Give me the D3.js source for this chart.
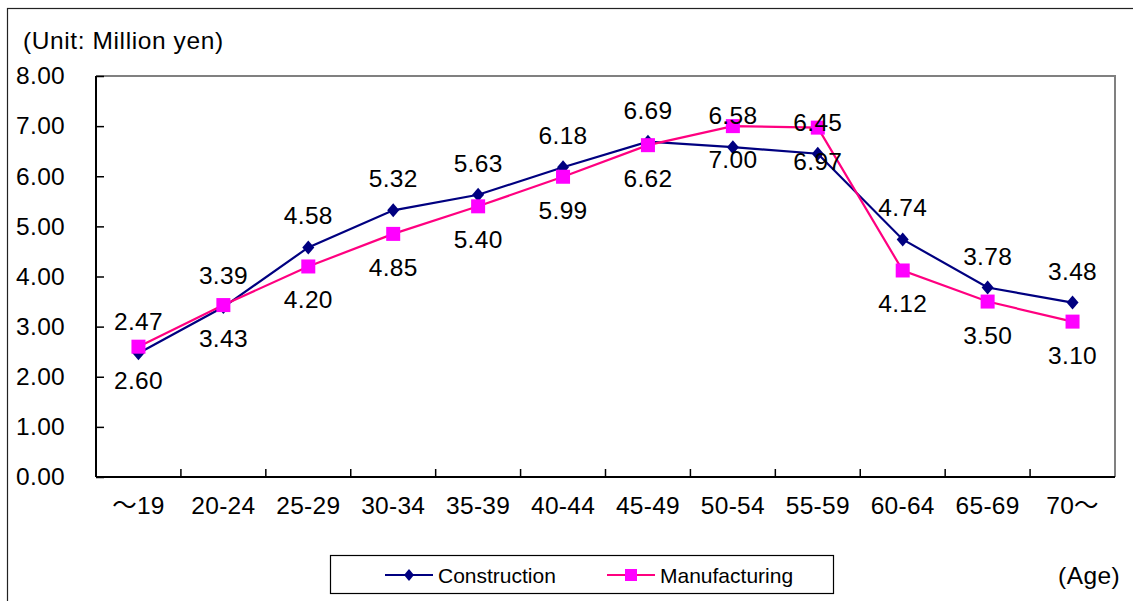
<!DOCTYPE html>
<html>
<head>
<meta charset="utf-8">
<script src="https://cdn.jsdelivr.net/npm/d3@7"></script>
<style>
  html, body { margin: 0; padding: 0; background: #fff; }
  svg { display: block; }
  text { font-family: "Liberation Sans", Arial, "Noto Sans CJK JP", sans-serif; fill: #000; }
</style>
</head>
<body>
<svg id="chart" width="1133" height="601"></svg>
<script>
const categories = ["～19", "20-24", "25-29", "30-34", "35-39", "40-44", "45-49", "50-54", "55-59", "60-64", "65-69", "70～"];
const construction = [2.47, 3.39, 4.58, 5.32, 5.63, 6.18, 6.69, 6.58, 6.45, 4.74, 3.78, 3.48];
const manufacturing = [2.60, 3.43, 4.20, 4.85, 5.40, 5.99, 6.62, 7.00, 6.97, 4.12, 3.50, 3.10];
const yTicks = [0, 1, 2, 3, 4, 5, 6, 7, 8];
const seriesNames = ["Construction", "Manufacturing"];

const svg = d3.select("#chart");
const L = 96, R = 1115, T = 76, B = 477;
const FS = 24.5;

const x = d3.scaleBand().domain(categories).range([L, R]).padding(0);
const y = d3.scaleLinear().domain([0, 8]).range([B, T]);

// outer frame
svg.append("rect").attr("x", 7.5).attr("y", 8.5).attr("width", 1140).attr("height", 610)
  .attr("fill", "none").attr("stroke", "#222").attr("stroke-width", 1.2);

// plot area border (top/right)
svg.append("path")
  .attr("d", `M${L},${T}H${R}V${B}`)
  .attr("fill", "none").attr("stroke", "#808080").attr("stroke-width", 2);

// y axis
const yAxis = svg.append("g").attr("transform", `translate(${L},0)`)
  .call(d3.axisLeft(y).tickValues(yTicks).tickFormat(d3.format(".2f")).tickSizeInner(-8).tickSizeOuter(0).tickPadding(31));
yAxis.select(".domain").remove();
yAxis.selectAll(".tick line").attr("stroke", "#000").attr("stroke-width", 1.5);
yAxis.selectAll("text").attr("font-size", FS).attr("font-family", null).attr("letter-spacing", 0.3);

// x axis labels
const xAxis = svg.append("g").attr("transform", `translate(0,${B})`)
  .call(d3.axisBottom(x).tickSize(0).tickPadding(20));
xAxis.select(".domain").remove();
xAxis.selectAll("text").attr("font-size", FS).attr("font-family", null).attr("letter-spacing", 0.3);

// x boundary ticks
svg.append("g").selectAll("line").data(categories.slice(1)).join("line")
  .attr("x1", d => x(d)).attr("x2", d => x(d))
  .attr("y1", B).attr("y2", B - 8)
  .attr("stroke", "#000").attr("stroke-width", 1.5);

// axis lines
svg.append("line").attr("x1", L).attr("x2", L).attr("y1", T).attr("y2", B)
  .attr("stroke", "#000").attr("stroke-width", 2);
svg.append("line").attr("x1", L).attr("x2", R).attr("y1", B).attr("y2", B)
  .attr("stroke", "#000").attr("stroke-width", 2);

const cx = d => x(d) + x.bandwidth() / 2;
const line = d3.line().x(d => cx(d.c)).y(d => y(d.v));

const cData = categories.map((c, i) => ({ c, v: construction[i] }));
const mData = categories.map((c, i) => ({ c, v: manufacturing[i] }));

const navy = "#000080", pinkLine = "#FF0080", magenta = "#FF00FF";

svg.append("path").datum(cData).attr("d", line)
  .attr("fill", "none").attr("stroke", navy).attr("stroke-width", 2.2);
svg.append("path").datum(mData).attr("d", line)
  .attr("fill", "none").attr("stroke", pinkLine).attr("stroke-width", 2.2);

const diamond = (px, py, w, h) => `M${px},${py - h}L${px + w},${py}L${px},${py + h}L${px - w},${py}Z`;

svg.append("g").selectAll("path").data(cData).join("path")
  .attr("d", d => diamond(cx(d.c), y(d.v), 6, 7)).attr("fill", navy);

svg.append("g").selectAll("rect").data(mData).join("rect")
  .attr("x", d => cx(d.c) - 7).attr("y", d => y(d.v) - 7)
  .attr("width", 14).attr("height", 14).attr("fill", magenta);

// data labels
svg.append("g").selectAll("text").data(cData).join("text")
  .attr("x", d => cx(d.c)).attr("y", d => y(d.v) - 23)
  .attr("text-anchor", "middle").attr("font-size", FS).attr("letter-spacing", 0.3)
  .text(d => d.v.toFixed(2));
svg.append("g").selectAll("text").data(mData).join("text")
  .attr("x", d => cx(d.c)).attr("y", d => y(d.v) + 42)
  .attr("text-anchor", "middle").attr("font-size", FS).attr("letter-spacing", 0.3)
  .text(d => d.v.toFixed(2));

// unit & age labels
svg.append("text").attr("x", 23).attr("y", 49).attr("font-size", FS).attr("letter-spacing", 0.6).text("(Unit: Million yen)");
svg.append("text").attr("x", 1120).attr("y", 584).attr("text-anchor", "end").attr("font-size", FS).attr("letter-spacing", 0.4).text("(Age)");

// legend
svg.append("rect").attr("x", 330.5).attr("y", 555.5).attr("width", 503).attr("height", 38)
  .attr("fill", "#fff").attr("stroke", "#000").attr("stroke-width", 1.2);
const legendItems = [
  { name: seriesNames[0], x1: 385, color: navy, marker: "diamond" },
  { name: seriesNames[1], x1: 607, color: pinkLine, marker: "square" }
];
const ly = 575;
legendItems.forEach(it => {
  svg.append("line").attr("x1", it.x1).attr("x2", it.x1 + 48).attr("y1", ly).attr("y2", ly)
    .attr("stroke", it.color).attr("stroke-width", 2.2);
  if (it.marker === "diamond") {
    svg.append("path").attr("d", diamond(it.x1 + 24, ly, 5, 6)).attr("fill", navy);
  } else {
    svg.append("rect").attr("x", it.x1 + 24 - 6).attr("y", ly - 6).attr("width", 12).attr("height", 12).attr("fill", magenta);
  }
  svg.append("text").attr("x", it.x1 + 53).attr("y", ly + 8).attr("font-size", 21).text(it.name);
});
</script>
</body>
</html>
